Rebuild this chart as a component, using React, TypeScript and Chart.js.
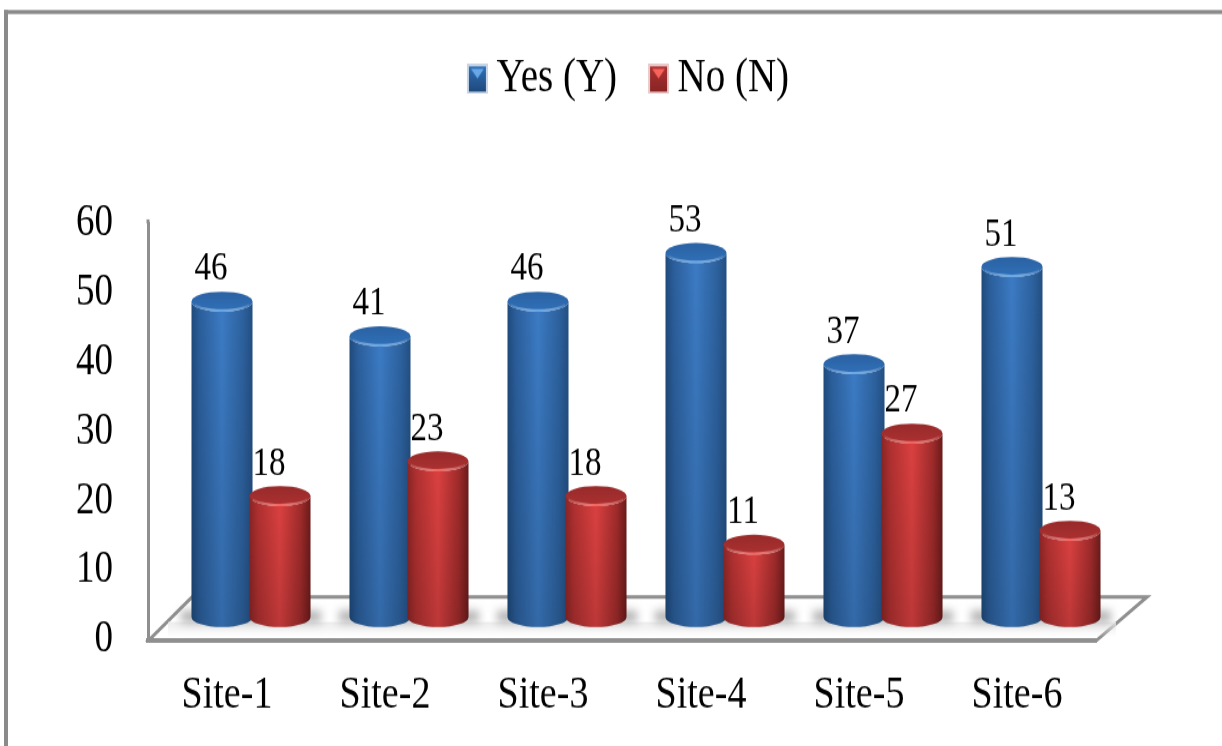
import React, { useEffect, useRef } from "react";
import { Chart, registerables } from "chart.js";

Chart.register(...registerables);

const categories = ["Site-1", "Site-2", "Site-3", "Site-4", "Site-5", "Site-6"];
const yesValues = [46, 41, 46, 53, 37, 51];
const noValues = [18, 23, 18, 11, 27, 13];
const yTicks = [0, 10, 20, 30, 40, 50, 60];

const FONT = '"Liberation Serif", "Times New Roman", serif';
const WIDTH = 1222;
const HEIGHT = 622;
// The canvas is laid out short and stretched vertically, giving the tall serif lettering.
const STRETCH = 746 / HEIGHT;
const v = (px: number) => px / STRETCH;

const AXIS_GREY = "#8f8f8f";
const LEGEND_PADDING = 39;
const LEGEND_FONT = 39;

type Tone = {
  edgeL: string;
  soft: string;
  mid: string;
  softR: string;
  edgeR: string;
  capTop: string;
  capLow: string;
  glint: string;
  pale: string;
};

const BLUE: Tone = {
  edgeL: "#1f4a7c",
  soft: "#2b5f9c",
  mid: "#3c7bc4",
  softR: "#2d629f",
  edgeR: "#234f82",
  capTop: "#2b62a3",
  capLow: "#3070b8",
  glint: "#68a8e8",
  pale: "#c7d5e6",
};
const RED: Tone = {
  edgeL: "#8a2525",
  soft: "#b03030",
  mid: "#dc4141",
  softR: "#a02b2b",
  edgeR: "#6c1b1b",
  capTop: "#982a2a",
  capLow: "#ac3131",
  glint: "#f8645c",
  pale: "#e8caca",
};

function legendSwatch(t: Tone): HTMLCanvasElement {
  const c = document.createElement("canvas");
  c.width = 24;
  c.height = Math.round(v(30));
  const g = c.getContext("2d")!;
  const h = c.height;
  // The swatch sits at the right of its image, close to the legend text
  g.translate(3, 0);
  g.fillStyle = t.pale;
  g.fillRect(0, 0, 21, h);
  const fill = g.createLinearGradient(0, 2, 0, h - 2);
  fill.addColorStop(0, t.capLow);
  fill.addColorStop(1, t.edgeL);
  g.fillStyle = fill;
  g.fillRect(2, 2, 17, h - 4);
  g.fillStyle = t.glint;
  g.beginPath();
  g.moveTo(4, 4);
  g.lineTo(17, 4);
  g.lineTo(10.5, 12);
  g.closePath();
  g.fill();
  return c;
}

function drawCylinder(
  ctx: CanvasRenderingContext2D,
  cx: number,
  top: number,
  base: number,
  width: number,
  t: Tone
) {
  const rx = width / 2;
  const ry = v(10);
  ctx.save();
  ctx.beginPath();
  ctx.moveTo(cx - rx, top);
  ctx.lineTo(cx - rx, base);
  ctx.ellipse(cx, base, rx, ry, 0, Math.PI, 0, true);
  ctx.lineTo(cx + rx, top);
  ctx.ellipse(cx, top, rx, ry, 0, 0, Math.PI, false);
  ctx.closePath();
  const side = ctx.createLinearGradient(cx - rx, 0, cx + rx, 0);
  side.addColorStop(0, t.edgeL);
  side.addColorStop(0.14, t.soft);
  side.addColorStop(0.5, t.mid);
  side.addColorStop(0.84, t.softR);
  side.addColorStop(1, t.edgeR);
  ctx.fillStyle = side;
  ctx.fill();
  const fade = ctx.createLinearGradient(0, top, 0, base + ry);
  fade.addColorStop(0, "rgba(0,0,0,0)");
  fade.addColorStop(1, "rgba(0,0,0,0.14)");
  ctx.fillStyle = fade;
  ctx.fill();

  ctx.beginPath();
  ctx.ellipse(cx, top, rx, ry, 0, 0, Math.PI * 2);
  const cap = ctx.createLinearGradient(0, top - ry, 0, top + ry);
  cap.addColorStop(0, t.capTop);
  cap.addColorStop(1, t.capLow);
  ctx.fillStyle = cap;
  ctx.fill();

  ctx.beginPath();
  ctx.ellipse(cx, top, rx - 1, ry - 1, 0, 0.12 * Math.PI, 0.88 * Math.PI);
  const rim = ctx.createLinearGradient(cx - rx, 0, cx + rx, 0);
  rim.addColorStop(0, "rgba(255,255,255,0)");
  rim.addColorStop(0.5, t.glint);
  rim.addColorStop(1, "rgba(255,255,255,0)");
  ctx.strokeStyle = rim;
  ctx.lineWidth = 2;
  ctx.stroke();
  ctx.restore();
}

const frame = {
  id: "frame",
  beforeDraw(chart: any) {
    const { ctx } = chart;
    ctx.save();
    ctx.fillStyle = "#ffffff";
    ctx.fillRect(0, 0, WIDTH, HEIGHT);
    ctx.fillStyle = "#8a8a8a";
    ctx.fillRect(4, v(10), WIDTH - 4, v(4));
    ctx.fillRect(4, v(10), 4, HEIGHT);
    ctx.restore();
  },
};

const legendPlacement = {
  id: "legendPlacement",
  afterLayout(chart: any) {
    const lg = chart.legend;
    const shift = 632 - (lg.left + lg.right) / 2;
    const h = lg.height;
    lg.left += shift;
    lg.right += shift;
    lg.top = v(79) - LEGEND_PADDING - LEGEND_FONT / 2;
    lg.bottom = lg.top + h;
  },
};

const cylinders = {
  id: "cylinders",
  beforeDatasetsDraw(chart: any) {
    const { ctx, chartArea } = chart;
    const { left, right, bottom, top } = chartArea;
    const backY = bottom - v(43);

    ctx.save();
    // The wall line runs slightly above the top tick
    ctx.fillStyle = AXIS_GREY;
    ctx.fillRect(left - 1.5, top - v(4), 3, v(4));

    // Slanted floor behind the bars
    ctx.beginPath();
    ctx.moveTo(left + 1, bottom);
    ctx.lineTo(left + 44, backY);
    ctx.lineTo(right + 51, backY);
    ctx.lineTo(right + 1, bottom);
    ctx.closePath();
    ctx.fillStyle = "#ffffff";
    ctx.fill();
    ctx.strokeStyle = AXIS_GREY;
    ctx.lineWidth = 3;
    ctx.stroke();

    const wash = ctx.createLinearGradient(0, bottom - v(18), 0, bottom - v(3));
    wash.addColorStop(0, "rgba(235,235,235,0.9)");
    wash.addColorStop(1, "rgba(235,235,235,0)");
    ctx.fillStyle = wash;
    ctx.fillRect(left + 20, bottom - v(18), right - left, v(15));
    ctx.restore();

    const yes = chart.getDatasetMeta(0).data;
    const no = chart.getDatasetMeta(1).data;
    const depthX = 24;
    const depthTop = v(19);
    const depthBase = v(23);

    // Soft shadow under each pair of bars
    yes.forEach((bar: any, i: number) => {
      const cx = (bar.x + no[i].x) / 2 + depthX;
      const cy = bar.base - depthBase;
      ctx.save();
      ctx.filter = "blur(4px)";
      ctx.fillStyle = "#9a9a9a";
      ctx.fillRect(cx - 70, cy - v(5), 140, v(9));
      ctx.restore();
    });

    const tones = [BLUE, RED];
    const series = [yes, no];
    categories.forEach((_, i) => {
      series.forEach((meta, s) => {
        const bar = meta[i];
        drawCylinder(
          ctx,
          bar.x + depthX,
          bar.y - depthTop,
          bar.base - depthBase,
          bar.width + 3,
          tones[s]
        );
      });
    });

    // Value labels sit up and to the left of each bar
    ctx.save();
    ctx.fillStyle = "#000000";
    ctx.font = `33px ${FONT}`;
    ctx.textAlign = "center";
    ctx.textBaseline = "middle";
    series.forEach((meta, s) => {
      const values = chart.data.datasets[s].data;
      meta.forEach((bar: any, i: number) => {
        ctx.fillText(String(values[i]), bar.x + depthX - 11, bar.y - depthTop - v(32));
      });
    });
    ctx.restore();
    return false;
  },
};

export default function App() {
  const ref = useRef<HTMLCanvasElement>(null);

  useEffect(() => {
    const swatches = [legendSwatch(BLUE), legendSwatch(RED)];
    const chart = new Chart(ref.current!, {
      type: "bar",
      data: {
        labels: categories,
        datasets: [
          { label: "Yes (Y)", data: yesValues, backgroundColor: "#2f6cb3" },
          { label: "No (N)", data: noValues, backgroundColor: "#c53636" },
        ],
      },
      options: {
        responsive: false,
        animation: false,
        devicePixelRatio: 1,
        layout: { padding: { top: v(221) - 2 * LEGEND_PADDING - 8, right: WIDTH - 1096, left: 0, bottom: 0 } },
        datasets: { bar: { categoryPercentage: 116 / 158, barPercentage: 1 } },
        plugins: {
          tooltip: { enabled: false },
          legend: {
            position: "top",
            labels: {
              color: "#000000",
              font: { family: FONT, size: LEGEND_FONT },
              usePointStyle: true,
              pointStyleWidth: 2,
              padding: LEGEND_PADDING,
              generateLabels: (c: any) =>
                c.data.datasets.map((d: any, i: number) => ({
                  text: d.label,
                  fontColor: "#000000",
                  fillStyle: d.backgroundColor,
                  strokeStyle: d.backgroundColor,
                  lineWidth: 0,
                  pointStyle: swatches[i],
                  datasetIndex: i,
                })),
            },
          },
        },
        scales: {
          x: {
            grid: { display: false, drawTicks: false },
            border: { display: true, color: AXIS_GREY, width: 4 },
            ticks: {
              color: "#000000",
              font: { family: FONT, size: 38 },
              padding: 24,
              autoSkip: false,
              maxRotation: 0,
            },
            afterFit: (s: any) => {
              s.height = HEIGHT - v(640);
            },
          },
          y: {
            min: yTicks[0],
            max: yTicks[yTicks.length - 1],
            grid: { display: false, drawTicks: false },
            border: { display: true, color: AXIS_GREY, width: 3 },
            ticks: {
              stepSize: 10,
              color: "#000000",
              font: { family: FONT, size: 37 },
              padding: 35,
            },
            afterFit: (s: any) => {
              s.width = 148;
            },
          },
        },
      },
      plugins: [frame, legendPlacement, cylinders],
    } as any);
    return () => chart.destroy();
  }, []);

  return (
    <div style={{ position: "fixed", left: 0, top: 0, width: WIDTH, height: 746, overflow: "hidden", background: "#fff" }}>
      <canvas
        ref={ref}
        width={WIDTH}
        height={HEIGHT}
        style={{ transform: `scaleY(${STRETCH})`, transformOrigin: "0 0" }}
      />
    </div>
  );
}
